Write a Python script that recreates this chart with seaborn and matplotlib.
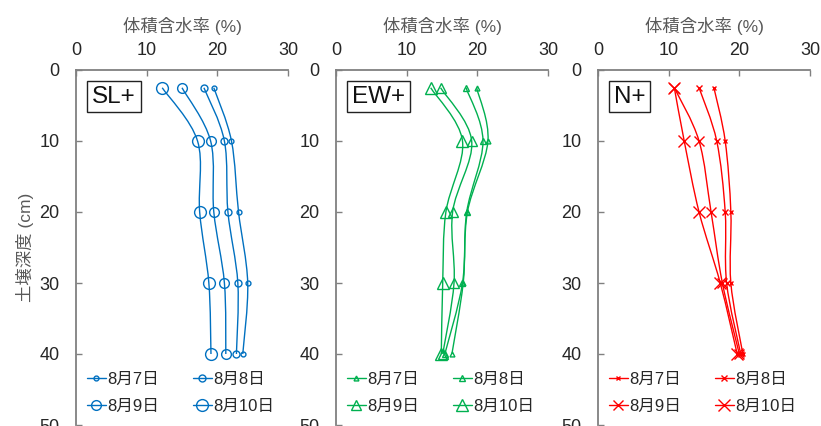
import numpy as np
import pandas as pd
import matplotlib
matplotlib.use("Agg")
import matplotlib.pyplot as plt
from matplotlib.path import Path
from matplotlib.patches import PathPatch
from matplotlib.lines import Line2D
import seaborn as sns

sns.set_theme(style="white")
plt.rcParams['font.family'] = ['Liberation Sans', 'Noto Sans CJK JP', 'DejaVu Sans']

depths = [2.5, 10, 20, 30, 40]
dates = ["8月7日", "8月8日", "8月9日", "8月10日"]
panels = ["SL+", "EW+", "N+"]

sl_0807 = [19.5, 22.0, 23.0, 24.3, 23.6]
sl_0808 = [18.1, 21.0, 21.5, 22.9, 22.7]
sl_0809 = [15.0, 19.05, 19.5, 21.0, 21.2]
sl_0810 = [12.2, 17.2, 17.5, 18.8, 19.1]

ew_0807 = [19.9, 21.5, 18.6, 18.0, 16.4]
ew_0808 = [18.4, 20.8, 18.5, 17.9, 15.4]
ew_0809 = [14.8, 19.2, 16.5, 16.7, 15.1]
ew_0810 = [13.4, 17.9, 15.55, 15.1, 14.9]

n_0807 = [16.4, 18.0, 18.8, 18.8, 20.5]
n_0808 = [14.3, 16.8, 18.0, 18.2, 20.2]
n_0809 = [10.8, 14.3, 16.0, 17.6, 20.0]
n_0810 = [10.8, 12.2, 14.3, 17.3, 19.7]

series = {
    "SL+": [sl_0807, sl_0808, sl_0809, sl_0810],
    "EW+": [ew_0807, ew_0808, ew_0809, ew_0810],
    "N+": [n_0807, n_0808, n_0809, n_0810],
}
colors = {"SL+": "#0070C0", "EW+": "#00B050", "N+": "#FF0000"}
markers = {"SL+": "o", "EW+": "^", "N+": "x"}
msizes = [3.5, 5.0, 7.0, 8.5]

rows = []
for p in panels:
    for d, vals in zip(dates, series[p]):
        for dep, v in zip(depths, vals):
            rows.append({"panel": p, "date": d, "depth": dep, "theta": v})
df = pd.DataFrame(rows)


def smooth_path(xs, ys):
    pts = list(zip(xs, ys))
    n = len(pts)
    verts = [pts[0]]
    codes = [Path.MOVETO]
    for i in range(n - 1):
        p0 = np.array(pts[i - 1] if i > 0 else pts[i])
        p1 = np.array(pts[i])
        p2 = np.array(pts[i + 1])
        p3 = np.array(pts[i + 2] if i + 2 < n else pts[i + 1])
        c1 = p1 + (p2 - p0) / 6.0
        c2 = p2 - (p3 - p1) / 6.0
        verts += [tuple(c1), tuple(c2), tuple(p2)]
        codes += [Path.CURVE4] * 3
    return Path(verts, codes)


W, H = 821, 426
fig = plt.figure(figsize=(W / 100, H / 100), dpi=100)
lefts = [76, 336, 598]
axw = 212
top_px, bot_px = 70, 425

spine_col = "#808080"
tick_col = "#262626"
lab_col = "#595959"

for k, p in enumerate(panels):
    ax = fig.add_axes([lefts[k] / W, 1 - bot_px / H, axw / W, (bot_px - top_px) / H])
    sub = df[df.panel == p]
    col = colors[p]
    handles = []
    for j, d in enumerate(dates):
        s = sub[sub.date == d]
        path = smooth_path(s.theta.values, s.depth.values)
        ax.add_patch(PathPatch(path, facecolor="none", edgecolor=col, lw=1.0, zorder=2))
        mk = markers[p]
        sns.lineplot(data=s, x="theta", y="depth", sort=False, orient="y", ax=ax,
                     color=col, linestyle="", marker=mk, markersize=msizes[j],
                     markerfacecolor="none" if mk != "x" else col,
                     markeredgecolor=col, markeredgewidth=1.0, zorder=3)
        handles.append(Line2D([0], [0], color=col, lw=1.0, marker=mk,
                              markersize=msizes[j],
                              markerfacecolor="none" if mk != "x" else col,
                              markeredgecolor=col, markeredgewidth=1.0))
    ax.set_xlim(0, 30)
    ax.set_ylim(50, 0)
    ax.set_xticks([0, 10, 20, 30])
    ax.set_yticks([0, 10, 20, 30, 40, 50])
    ax.xaxis.tick_top()
    ax.xaxis.set_label_position("top")
    ax.set_xlabel("体積含水率 (%)", fontsize=12.5, color=lab_col, labelpad=7)
    if k == 0:
        ax.set_ylabel("土壌深度 (cm)", fontsize=12.5, color=lab_col, labelpad=4)
    else:
        ax.set_ylabel("")
    ax.tick_params(axis="both", direction="in", length=4, width=1.0,
                   color=spine_col, labelsize=13, labelcolor=tick_col, pad=10)
    ax.tick_params(axis="x", top=True, bottom=False, pad=8)
    ax.tick_params(axis="y", left=True, right=False, pad=12)
    for side in ["right", "bottom"]:
        ax.spines[side].set_visible(False)
    for side in ["left", "top"]:
        ax.spines[side].set_color(spine_col)
        ax.spines[side].set_linewidth(1.3)
    ax.text(0.075, 0.925, p, transform=ax.transAxes, fontsize=17.5, color="#111111",
            ha="left", va="center",
            bbox=dict(boxstyle="square,pad=0.2", facecolor="white",
                      edgecolor="#222222", linewidth=1.0))
    order = [0, 2, 1, 3]
    leg = ax.legend([handles[i] for i in order], [dates[i] for i in order],
                    ncol=2, loc="lower left",
                    bbox_to_anchor=(0.0, 0.0), frameon=False, fontsize=12,
                    handlelength=1.15, handletextpad=0.1, columnspacing=2.0,
                    labelspacing=0.75, borderaxespad=0.25)
    for t in leg.get_texts():
        t.set_color(tick_col)

fig.savefig("out.png", dpi=100)
